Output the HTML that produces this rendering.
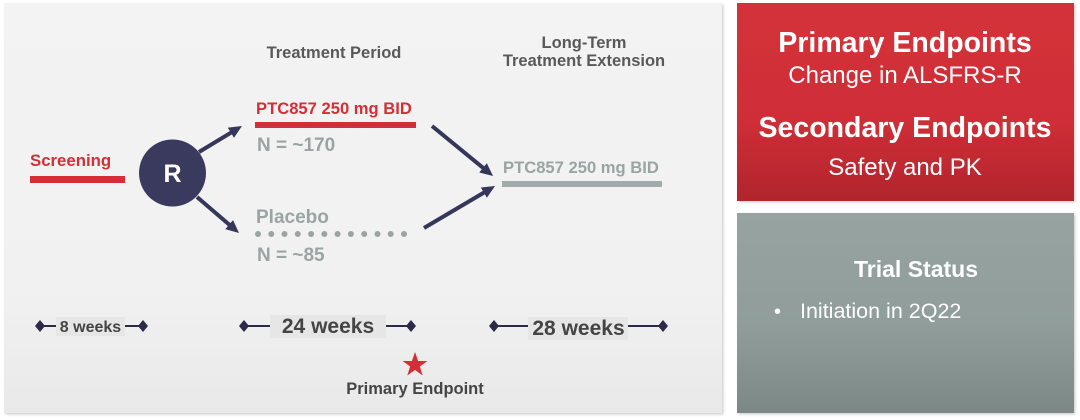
<!DOCTYPE html>
<html><head><meta charset="utf-8"><style>
html,body{margin:0;padding:0;background:#fff;width:1080px;height:420px;overflow:hidden}
svg{display:block}
text{font-family:"Liberation Sans",Arial,sans-serif}
</style></head><body>
<svg width="1080" height="420" viewBox="0 0 1080 420" xmlns="http://www.w3.org/2000/svg">
<defs>
<linearGradient id="lp" x1="0" y1="0" x2="0" y2="1"><stop offset="0" stop-color="#f3f3f3"/><stop offset="0.7" stop-color="#f1f1f1"/><stop offset="1" stop-color="#e9e9e9"/></linearGradient>
<linearGradient id="rg" x1="0" y1="0" x2="0" y2="1"><stop offset="0" stop-color="#d4313a"/><stop offset="0.6" stop-color="#cf2e37"/><stop offset="1" stop-color="#b1252c"/></linearGradient>
<linearGradient id="gg" x1="0" y1="0" x2="0" y2="1"><stop offset="0" stop-color="#97a3a1"/><stop offset="0.55" stop-color="#909d9b"/><stop offset="1" stop-color="#7b8886"/></linearGradient>
<filter id="sh" x="-5%" y="-5%" width="110%" height="110%"><feDropShadow dx="1.5" dy="1.5" stdDeviation="1.2" flood-color="#000" flood-opacity="0.18"/></filter>
<marker id="ah" markerUnits="userSpaceOnUse" markerWidth="14" markerHeight="13" refX="3" refY="6" orient="auto"><path d="M0,0 L13,6 L0,12 z" fill="#35365a"/></marker>
</defs>

<!-- left panel -->
<rect x="4" y="3" width="718" height="410" fill="url(#lp)" filter="url(#sh)"/>

<!-- right boxes -->
<rect x="737" y="3" width="337" height="198" fill="url(#rg)" filter="url(#sh)"/>
<rect x="737" y="213" width="337" height="200" fill="url(#gg)" filter="url(#sh)"/>

<text x="905" y="52" text-anchor="middle" font-size="28.5" font-weight="bold" fill="#fff">Primary Endpoints</text>
<text x="905" y="83" text-anchor="middle" font-size="24" fill="#fff">Change in ALSFRS-R</text>
<text x="905" y="137" text-anchor="middle" font-size="28.5" font-weight="bold" fill="#fff">Secondary Endpoints</text>
<text x="905" y="175" text-anchor="middle" font-size="24" fill="#fff">Safety and PK</text>

<text x="916" y="277" text-anchor="middle" font-size="23" font-weight="bold" fill="#fff">Trial Status</text>
<text x="774" y="318" font-size="20" fill="#fff">•</text>
<text x="800" y="318" font-size="21.5" fill="#fff">Initiation in 2Q22</text>

<!-- headings -->
<text x="334" y="58" text-anchor="middle" font-size="16.5" font-weight="bold" fill="#595959">Treatment Period</text>
<text x="584" y="48" text-anchor="middle" font-size="16.5" font-weight="bold" fill="#595959">Long-Term</text>
<text x="584" y="66" text-anchor="middle" font-size="16.5" font-weight="bold" fill="#595959">Treatment Extension</text>

<!-- screening -->
<text x="30" y="166" font-size="16.8" font-weight="bold" fill="#d32f37">Screening</text>
<rect x="30" y="176" width="95" height="7" fill="#d32f37"/>

<!-- R circle -->
<circle cx="172.5" cy="173" r="33.5" fill="#393a5e"/>
<text x="172.5" y="182" text-anchor="middle" font-size="25" font-weight="bold" fill="#fff">R</text>

<!-- arrows -->
<g stroke="#35365a" stroke-width="4" fill="none">
<line x1="199" y1="152" x2="233.4" y2="131.2" marker-end="url(#ah)"/>
<line x1="197" y1="197" x2="231.4" y2="226.5" marker-end="url(#ah)"/>
<line x1="432" y1="126" x2="485.3" y2="169.7" marker-end="url(#ah)"/>
<line x1="424" y1="228" x2="486.4" y2="191.1" marker-end="url(#ah)"/>
</g>

<!-- treatment arm -->
<text x="256" y="114" font-size="16.6" font-weight="bold" fill="#d32f37">PTC857 250 mg BID</text>
<rect x="255" y="122" width="161" height="6" fill="#d32f37"/>
<text x="257" y="151" font-size="19" font-weight="bold" fill="#9aa5a3">N = ~170</text>

<!-- placebo -->
<text x="256" y="223" font-size="19" font-weight="bold" fill="#9aa5a3">Placebo</text>
<g fill="#9aa5a3">
<circle cx="258" cy="234" r="3"/><circle cx="271.3" cy="234" r="3"/><circle cx="284.5" cy="234" r="3"/><circle cx="297.8" cy="234" r="3"/><circle cx="311.1" cy="234" r="3"/><circle cx="324.4" cy="234" r="3"/><circle cx="337.6" cy="234" r="3"/><circle cx="350.9" cy="234" r="3"/><circle cx="364.2" cy="234" r="3"/><circle cx="377.5" cy="234" r="3"/><circle cx="390.7" cy="234" r="3"/><circle cx="404" cy="234" r="3"/>
</g>
<text x="257" y="261" font-size="19" font-weight="bold" fill="#9aa5a3">N = ~85</text>

<!-- extension -->
<text x="503" y="173" font-size="16.6" font-weight="bold" fill="#9aa5a3">PTC857 250 mg BID</text>
<rect x="502" y="181" width="160" height="6" fill="#a1acaa"/>

<!-- timeline -->
<g fill="#2b2b47" stroke="none">
<polygon points="40,320 45,326 40,332 35,326"/>
<polygon points="143,320 148,326 143,332 138,326"/>
<polygon points="244,320 249,326 244,332 239,326"/>
<polygon points="411,320 416,326 411,332 406,326"/>
<polygon points="494,320 499,326 494,332 489,326"/>
<polygon points="663,320 668,326 663,332 658,326"/>
</g>
<g stroke="#2b2b47" stroke-width="2">
<line x1="44" y1="326" x2="57" y2="326"/>
<line x1="124" y1="326" x2="139" y2="326"/>
<line x1="248" y1="326" x2="270" y2="326"/>
<line x1="386" y1="326" x2="407" y2="326"/>
<line x1="498" y1="326" x2="529" y2="326"/>
<line x1="627" y1="326" x2="659" y2="326"/>
</g>
<rect x="56" y="317" width="69" height="19" fill="#e6e6e6"/>
<rect x="270" y="315" width="116" height="23" fill="#e6e6e6"/>
<rect x="528" y="317" width="100" height="23" fill="#e6e6e6"/>
<text x="90.5" y="332" text-anchor="middle" font-size="16" font-weight="bold" fill="#444">8 weeks</text>
<text x="328" y="333" text-anchor="middle" font-size="21" font-weight="bold" fill="#444">24 weeks</text>
<text x="578.5" y="335" text-anchor="middle" font-size="21" font-weight="bold" fill="#444">28 weeks</text>

<!-- star -->
<polygon points="415,352 418.1,361 427.4,361 419.9,366.5 422.7,375.5 415,370 407.3,375.5 410.1,366.5 402.6,361 411.9,361" fill="#d32f37"/>
<text x="415" y="394" text-anchor="middle" font-size="16.5" font-weight="bold" fill="#444">Primary Endpoint</text>
</svg>
</body></html>
